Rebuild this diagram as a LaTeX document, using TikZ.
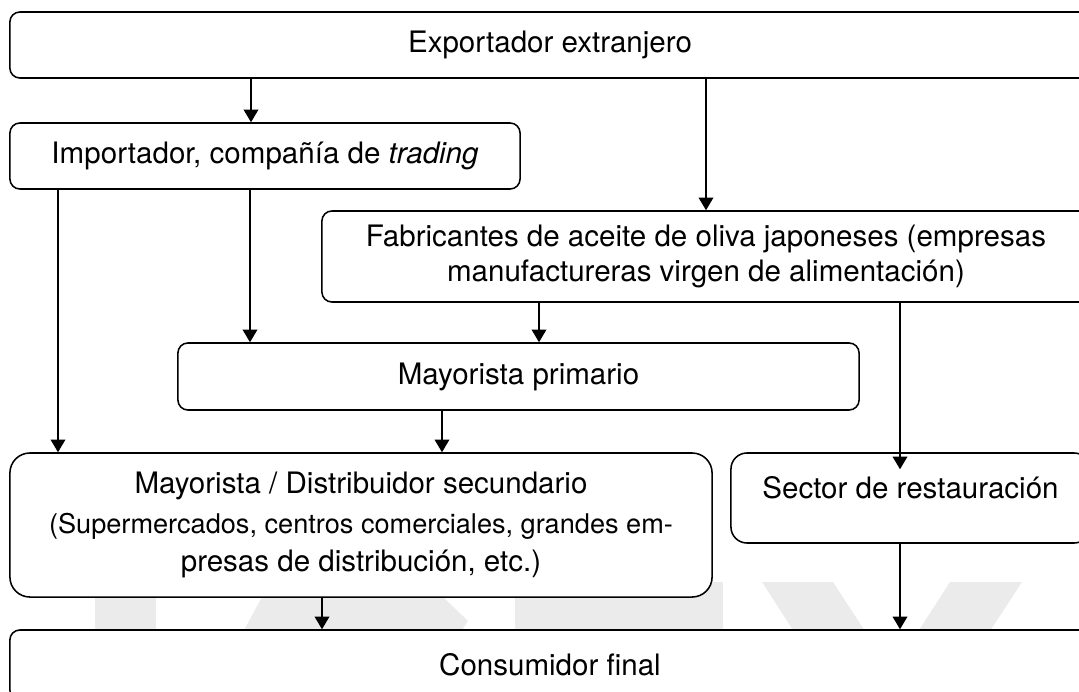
\documentclass[tikz,border=0pt]{standalone}
\usepackage{fontspec}
\setmainfont{TeX Gyre Heros}
\usetikzlibrary{arrows.meta}
\tikzset{
  box/.style={draw, line width=1.1pt, fill=white, rounded corners=0.25cm,
    align=center, font=\fontsize{21}{27}\selectfont},
  arr/.style={line width=0.8pt, -{Triangle[length=9pt,width=10.5pt]}},
  wm/.style={fill=black!8}
}
\begin{document}
\begin{tikzpicture}[x=0.025cm, y=-0.025cm]
      \useasboundingbox (0,0) rectangle (1079,691);
      \clip (0,0) rectangle (1079,691);
      % watermark
      \fill[wm] (95,582) rectangle (156,700);
      \fill[wm] (236,645) -- (262,597) .. controls (300,540) and (400,540) .. (443,597)
        -- (468,621) -- (452,645) -- cycle;
      \fill[wm] (515,582) rectangle (723,700);
      \fill[wm] (762,582) -- (833,582) -- (910,700) -- (838,700) -- cycle;
      \fill[wm] (950,582) -- (1022,582) -- (945,700) -- (874,700) -- cycle;
      % boxes
      \node[box, minimum width=27cm, minimum height=1.65cm] (expo) at (550,45)
        {Exportador extranjero};
      \node[box, minimum width=12.75cm, minimum height=1.65cm] (impo) at (265,156)
        {Importador, compañía de \textit{trading}};
      \node[box, minimum width=19.2cm, minimum height=2.275cm,
        font=\fontsize{21}{25}\selectfont] (fab) at (706,256.5)
        {Fabricantes de aceite de oliva japoneses (empresas\\
         manufactureras virgen de alimentación)};
      \node[box, minimum width=17.025cm, minimum height=1.675cm] (prim) at (518.5,376.5)
        {Mayorista primario};
      \node[box, rounded corners=0.5cm, minimum width=17.55cm, minimum height=3.6cm] (sec)
        at (361,525)
        {Mayorista / Distribuidor secundario\\[1pt]
         \fontsize{19.3}{26.5}\selectfont
         (Supermercados, centros comerciales, grandes em-\\
         presas de distribución, etc.)};
      \node[box, rounded corners=0.4cm, minimum width=8.975cm, minimum height=2.25cm,
        text height=8pt, text depth=8pt] (sect) at (910.5,498)
        {Sector de restauración};
      \node[box, minimum width=27cm, minimum height=1.75cm] (cons) at (550,665)
        {Consumidor final};
      % connectors
      \def \Edges{
        expo/impo/251,
        expo/fab/706,
        impo/prim/250,
        impo/sec/58,
        fab/prim/539,
        prim/sec/442,
        sec/cons/322,
        sect/cons/900}
      \foreach \a / \b / \x in \Edges{
        \draw[arr] (\a.south -| \x,0) -- (\b.north -| \x,0);
      }
      \path (sect.north -| 900,0) ++(0,17) coordinate (secttip);
      \draw[arr] (fab.south -| 900,0) -- (secttip);
\end{tikzpicture}
\end{document}
